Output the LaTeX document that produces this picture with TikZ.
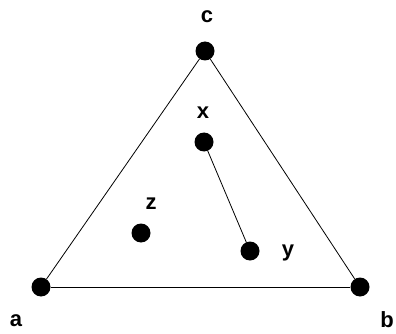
\documentclass[tikz,border=0pt]{standalone}
\usepackage{fontspec}
\setmainfont{Liberation Sans}
\begin{document}
\begin{tikzpicture}[x=1pt,y=-1pt,
  dot/.style={circle,fill=black,inner sep=0pt,minimum size=19pt},
  lbl/.style={font=\fontsize{22}{26}\selectfont\bfseries,inner sep=0pt},
  edge/.style={line width=0.8pt,black}]
\useasboundingbox (0,0) rectangle (396,334);
\node[dot] (c) at (205,51) {};
\node[dot] (a) at (41,287) {};
\node[dot] (b) at (360,287) {};
\node[dot] (x) at (204,142) {};
\node[dot] (y) at (250,251) {};
\node[dot] (z) at (141,233) {};
\node[lbl] (lc) at (207,17) {c};
\node[lbl] (la) at (16,321) {a};
\node[lbl] (lb) at (387,320) {b};
\node[lbl] (lx) at (203,113) {x};
\node[lbl] (ly) at (288,253) {y};
\node[lbl] (lz) at (151,204) {z};
\draw[edge] (a) -- (b);
\draw[edge] (a) -- (c);
\draw[edge] (c) -- (b);
\draw[edge] (x) -- (y);
\end{tikzpicture}
\end{document}
